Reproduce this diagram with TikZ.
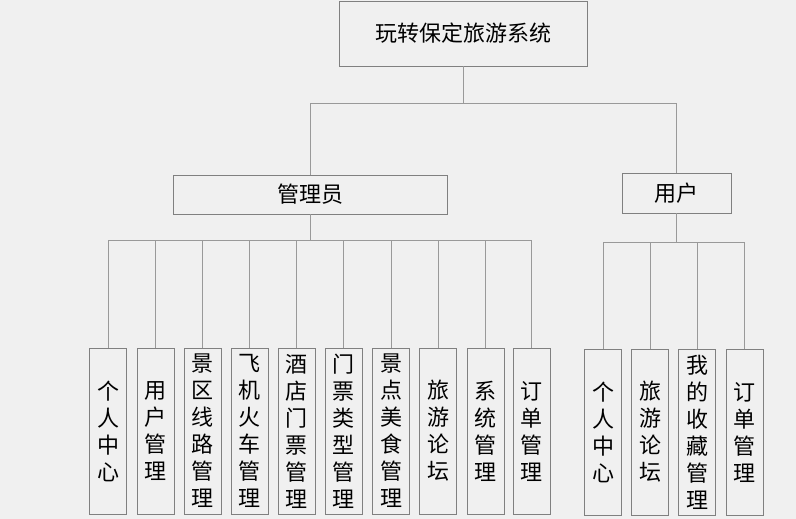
\documentclass[tikz,border=0pt]{standalone}
\usepackage{fontspec}
\setmainfont{Noto Sans CJK SC}
\begin{document}
\begin{tikzpicture}[x=1pt,y=-1pt,
  box/.style={draw=black!50,fill=bg,inner sep=0pt,line width=0.8pt,
    font=\fontsize{22}{27}\selectfont,align=center},
  leaf/.style={box,minimum width=37pt,minimum height=166pt},
  conn/.style={draw=black!40,line width=0.8pt}]
\definecolor{bg}{RGB}{240,240,240}
\fill[bg] (0,0) rectangle (796,519);
\useasboundingbox (0,0) rectangle (796,519);
\node[box,minimum width=248pt,minimum height=65pt] (root) at (463,33.5) {玩转保定旅游系统};
\node[box,minimum width=274pt,minimum height=39pt] (admin) at (310,194.5) {管理员};
\node[box,minimum width=109pt,minimum height=40pt] (user) at (676.5,193) {用户};
\coordinate (b1) at (463,103);
\coordinate (b2) at (310,240);
\coordinate (b3) at (676.5,242);
\draw[conn] (root) -- (b1);
\draw[conn] (b1) -| (admin.north);
\draw[conn] (b1) -| (user.north);
\draw[conn] (admin) -- (b2);
\draw[conn] (user) -- (b3);
\node[leaf] (a1) at (108,431) {个\\人\\中\\心};
\node[leaf] (a2) at (155.5,431) {用\\户\\管\\理};
\node[leaf] (a3) at (202.5,431) {景\\区\\线\\路\\管\\理};
\node[leaf] (a4) at (249.5,431) {飞\\机\\火\\车\\管\\理};
\node[leaf] (a5) at (296.5,431) {酒\\店\\门\\票\\管\\理};
\node[leaf] (a6) at (343.5,431) {门\\票\\类\\型\\管\\理};
\node[leaf] (a7) at (391,431) {景\\点\\美\\食\\管\\理};
\node[leaf] (a8) at (438,431) {旅\\游\\论\\坛};
\node[leaf] (a9) at (485.5,431) {系\\统\\管\\理};
\node[leaf] (a10) at (531.5,431) {订\\单\\管\\理};
\foreach \i in {1,...,10} {\draw[conn] (b2) -| (a\i.north);}
\node[leaf] (u1) at (603,432) {个\\人\\中\\心};
\node[leaf] (u2) at (650,432) {旅\\游\\论\\坛};
\node[leaf] (u3) at (697,432) {我\\的\\收\\藏\\管\\理};
\node[leaf] (u4) at (744.5,432) {订\\单\\管\\理};
\foreach \i in {1,...,4} {\draw[conn] (b3) -| (u\i.north);}
\end{tikzpicture}
\end{document}
